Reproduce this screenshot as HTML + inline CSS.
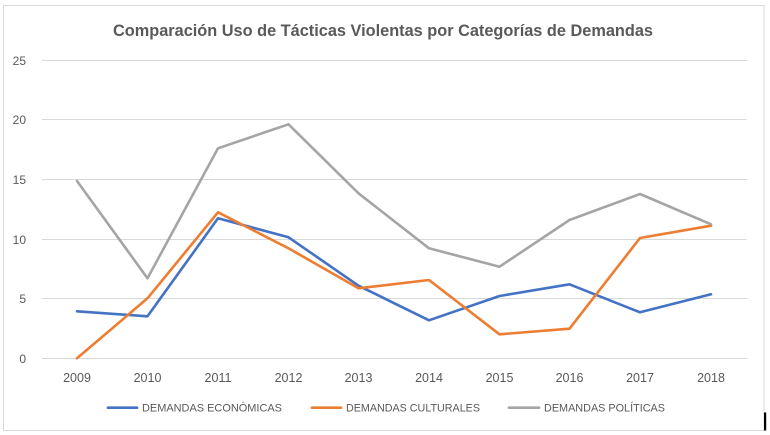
<!DOCTYPE html>
<html>
<head>
<meta charset="utf-8">
<style>
  html, body { margin: 0; padding: 0; background: #ffffff; }
  body { width: 770px; height: 435px; overflow: hidden; }
  svg { display: block; }
  text { font-family: "Liberation Sans", sans-serif; fill: #595959; }
</style>
</head>
<body>
<svg width="770" height="435" viewBox="0 0 770 435" xmlns="http://www.w3.org/2000/svg">
  <rect x="0" y="0" width="770" height="435" fill="#ffffff"/>
  <!-- chart border -->
  <rect x="3.5" y="5.5" width="760.5" height="425" fill="none" stroke="#D9D9D9" stroke-width="1"/>
  <rect x="764" y="412.5" width="2.2" height="18" fill="#000000"/>

  <!-- title -->
  <text x="113" y="36" font-size="17" font-weight="bold" textLength="540" lengthAdjust="spacingAndGlyphs">Comparación Uso de Tácticas Violentas por Categorías de Demandas</text>

  <!-- gridlines -->
  <g stroke="#D9D9D9" stroke-width="1">
    <line x1="42" y1="60.5" x2="747" y2="60.5"/>
    <line x1="42" y1="119.5" x2="747" y2="119.5"/>
    <line x1="42" y1="179.5" x2="747" y2="179.5"/>
    <line x1="42" y1="239.5" x2="747" y2="239.5"/>
    <line x1="42" y1="298.5" x2="747" y2="298.5"/>
    <line x1="42" y1="358.5" x2="747" y2="358.5"/>
  </g>

  <!-- y labels -->
  <g font-size="12" text-anchor="end">
    <text x="26" y="65">25</text>
    <text x="26" y="124">20</text>
    <text x="26" y="184">15</text>
    <text x="26" y="244">10</text>
    <text x="26" y="303">5</text>
    <text x="26" y="363">0</text>
  </g>

  <!-- x labels -->
  <g font-size="12.5" text-anchor="middle">
    <text x="77" y="382">2009</text>
    <text x="147.5" y="382">2010</text>
    <text x="218" y="382">2011</text>
    <text x="288.5" y="382">2012</text>
    <text x="358.5" y="382">2013</text>
    <text x="429" y="382">2014</text>
    <text x="499.5" y="382">2015</text>
    <text x="569.5" y="382">2016</text>
    <text x="640" y="382">2017</text>
    <text x="711" y="382">2018</text>
  </g>

  <!-- series -->
  <g fill="none" stroke-width="2.6" stroke-linejoin="round" stroke-linecap="round">
    <polyline stroke="#4472C4" points="77,311.3 147.5,316.3 218,218.3 288.5,237.3 358.5,285.7 429,320.3 499.5,296 569.5,284.3 640,312.3 711,294.3"/>
    <polyline stroke="#ED7D31" points="77,358.3 147.5,298.3 218,212.3 288.5,248.3 358.5,288.3 429,280 499.5,334.3 569.5,328.7 640,238 711,225.7"/>
    <polyline stroke="#A5A5A5" points="77,181 147.5,278.3 218,148.3 288.5,124.3 358.5,193.3 429,248.3 499.5,266.7 569.5,220 640,194 711,224.3"/>
  </g>

  <!-- legend -->
  <g stroke-width="2.7" stroke-linecap="round">
    <line x1="108" y1="407.7" x2="137" y2="407.7" stroke="#4472C4"/>
    <line x1="312" y1="407.7" x2="341" y2="407.7" stroke="#ED7D31"/>
    <line x1="509" y1="407.7" x2="539" y2="407.7" stroke="#A5A5A5"/>
  </g>
  <g font-size="10.8">
    <text x="142" y="411.7" textLength="140" lengthAdjust="spacingAndGlyphs">DEMANDAS ECONÓMICAS</text>
    <text x="346" y="411.7" textLength="134" lengthAdjust="spacingAndGlyphs">DEMANDAS CULTURALES</text>
    <text x="544" y="411.7" textLength="121" lengthAdjust="spacingAndGlyphs">DEMANDAS POLÍTICAS</text>
  </g>
</svg>
</body>
</html>
